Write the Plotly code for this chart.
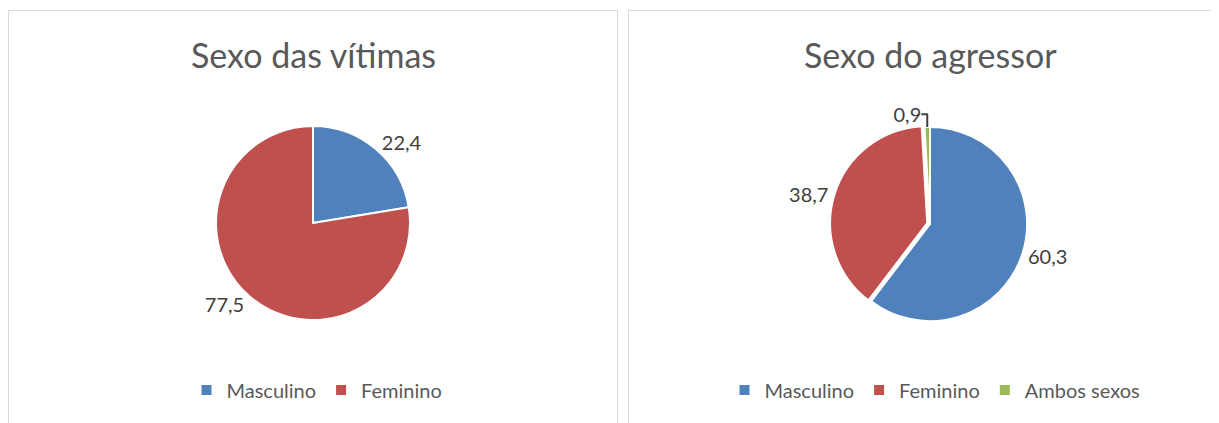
import plotly.graph_objects as go

# Page body has an 8px margin, so the figure is drawn offset by 8px.
OFF = 8
W, H = 1219 - OFF, 423 - OFF

# Data
victim_labels = ["Masculino", "Feminino"]
victim_values = [22.4, 77.5]
aggressor_labels = ["Masculino", "Feminino", "Ambos sexos"]
aggressor_values = [60.3, 38.7, 0.9]

colors = {"Masculino": "#4F81BD", "Feminino": "#C0504D", "Ambos sexos": "#9BBB59"}
text_color = "#595959"
label_color = "#404040"
font_family = "Lato, 'Open Sans', sans-serif"

ZW = "\u200b"  # keeps the right chart's legend entries separate from the left one's


def fx(px):
    return (px - OFF) / W


def fy(py):
    return 1 - (py - OFF) / H


def px_domain(cx, cy, r):
    return dict(x=[fx(cx - r), fx(cx + r)], y=[fy(cy + r), fy(cy - r)])


fig = go.Figure()

fig.add_trace(go.Pie(
    labels=victim_labels,
    values=victim_values,
    sort=False,
    direction="clockwise",
    rotation=0,
    marker=dict(colors=[colors[l] for l in victim_labels], line=dict(color="white", width=2)),
    textposition="outside",
    texttemplate="%{value:.1f}",
    textfont=dict(size=20, color=label_color, family=font_family),
    domain=px_domain(313, 223, 97),
    legend="legend",
    hoverinfo="label+value",
))

fig.add_trace(go.Pie(
    labels=[l + ZW for l in aggressor_labels],
    values=aggressor_values,
    sort=False,
    direction="clockwise",
    rotation=0,
    pull=[0, 0.03, 0],
    marker=dict(colors=[colors[l] for l in aggressor_labels], line=dict(color="white", width=2)),
    textposition="outside",
    texttemplate="%{value:.1f}",
    textfont=dict(size=20, color=label_color, family=font_family),
    domain=px_domain(930, 224, 100),
    legend="legend2",
    hoverinfo="label+value",
))

legend_common = dict(
    orientation="h",
    yanchor="middle",
    xanchor="center",
    font=dict(size=20, color=text_color, family=font_family),
    bgcolor="rgba(0,0,0,0)",
    itemclick=False,
    itemdoubleclick=False,
)

fig.update_layout(
    width=W,
    height=H,
    margin=dict(l=0, r=0, t=0, b=0),
    paper_bgcolor="white",
    plot_bgcolor="white",
    separators=",.",
    font=dict(family=font_family, color=text_color),
    legend=dict(x=fx(317), y=fy(390), **legend_common),
    legend2=dict(x=fx(935), y=fy(390), **legend_common),
    shapes=[
        dict(type="rect", xref="paper", yref="paper",
             x0=fx(8.5), x1=fx(617.5), y0=-0.05, y1=fy(10.5),
             line=dict(color="#D9D9D9", width=1)),
        dict(type="rect", xref="paper", yref="paper",
             x0=fx(628.5), x1=fx(1212.5), y0=-0.05, y1=fy(10.5),
             line=dict(color="#D9D9D9", width=1)),
    ],
    annotations=[
        dict(text="Sexo das vítimas", x=fx(313), y=fy(55), xref="paper", yref="paper",
             showarrow=False, xanchor="center", yanchor="middle",
             font=dict(size=34, color=text_color, family=font_family)),
        dict(text="Sexo do agressor", x=fx(930), y=fy(55), xref="paper", yref="paper",
             showarrow=False, xanchor="center", yanchor="middle",
             font=dict(size=34, color=text_color, family=font_family)),
    ],
)

fig.write_html("out.html")
